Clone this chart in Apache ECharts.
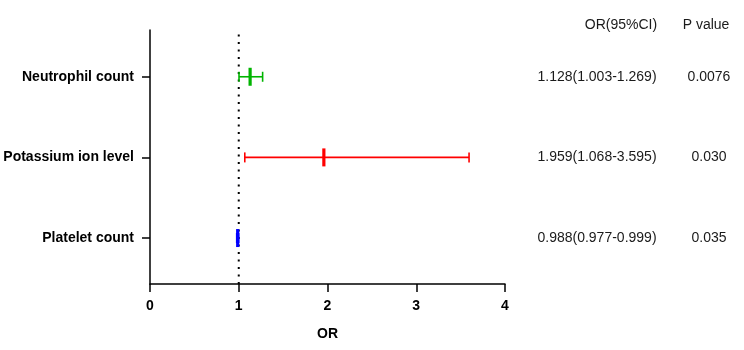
<!DOCTYPE html>
<html>
<head>
<meta charset="utf-8">
<script src="https://cdn.jsdelivr.net/npm/echarts@6/dist/echarts.min.js"></script>
<style>
html,body{margin:0;padding:0;background:#fff;}
#main{width:744px;height:350px;}
</style>
</head>
<body>
<div id="main"></div>
<script>
// ---- data ----
var categories = ['Platelet count', 'Potassium ion level', 'Neutrophil count'];
var orValues = [0.988, 1.959, 1.128];
var ciLow = [0.977, 1.068, 1.003];
var ciHigh = [0.999, 3.595, 1.269];
var pValues = ['0.035', '0.030', '0.0076'];
var rowColors = ['#0000ff', '#ff0000', '#00b400'];
var xTicks = [0, 1, 2, 3, 4];
var refValue = 1;
var headers = ['OR(95%CI)', 'P value'];

var FONT = "'Liberation Sans', Arial, Helvetica, sans-serif";
var yMin = 0.43, yMax = 3.58;

var seriesData = categories.map(function (c, i) {
  return [orValues[i], ciLow[i], ciHigh[i], i + 1];
});

function renderItem(params, api) {
  var idx = params.dataIndex;
  var row = api.value(3);
  var pc = api.coord([api.value(0), row]);
  var pl = api.coord([api.value(1), row]);
  var ph = api.coord([api.value(2), row]);
  var color = rowColors[idx];
  var y = pc[1];
  var capH = 5;
  var midH = 9;
  var ciText = orValues[idx].toFixed(3) + '(' + ciLow[idx].toFixed(3) + '-' + ciHigh[idx].toFixed(3) + ')';
  return {
    type: 'group',
    children: [
      { type: 'line', shape: { x1: pl[0], y1: y, x2: ph[0], y2: y }, style: { stroke: color, lineWidth: 1.6 } },
      { type: 'line', shape: { x1: pl[0], y1: y - capH, x2: pl[0], y2: y + capH }, style: { stroke: color, lineWidth: 1.6 } },
      { type: 'line', shape: { x1: ph[0], y1: y - capH, x2: ph[0], y2: y + capH }, style: { stroke: color, lineWidth: 1.6 } },
      { type: 'line', shape: { x1: pc[0], y1: y - midH, x2: pc[0], y2: y + midH }, style: { stroke: color, lineWidth: 3.2 } },
      { type: 'text', x: 597, y: y, style: { text: ciText, fill: '#1a1a1a', font: '14px ' + FONT, align: 'center', verticalAlign: 'middle' } },
      { type: 'text', x: 709, y: y, style: { text: pValues[idx], fill: '#1a1a1a', font: '14px ' + FONT, align: 'center', verticalAlign: 'middle' } }
    ]
  };
}

var chart = echarts.init(document.getElementById('main'), null, { renderer: 'canvas' });
chart.setOption({
  backgroundColor: '#ffffff',
  animation: false,
  grid: { left: 150, right: 239, top: 30, bottom: 66, containLabel: false },
  xAxis: {
    type: 'value',
    min: xTicks[0],
    max: xTicks[xTicks.length - 1],
    interval: 1,
    name: 'OR',
    nameLocation: 'middle',
    nameGap: 43,
    nameTextStyle: { fontFamily: FONT, fontWeight: 'bold', fontSize: 14, color: '#000' },
    axisLine: { show: true, lineStyle: { color: '#000', width: 1.5 } },
    axisTick: { show: true, length: 8, lineStyle: { color: '#000', width: 1.5 } },
    axisLabel: { fontFamily: FONT, fontWeight: 'bold', fontSize: 14, color: '#000', margin: 15 },
    splitLine: { show: false }
  },
  yAxis: {
    type: 'value',
    min: yMin,
    max: yMax,
    axisLine: { show: true, lineStyle: { color: '#000', width: 1.5 } },
    axisTick: { show: true, length: 8, customValues: [1, 2, 3], lineStyle: { color: '#000', width: 1.5 } },
    axisLabel: {
      customValues: [1, 2, 3],
      fontFamily: FONT, fontWeight: 'bold', fontSize: 14, color: '#000', margin: 16,
      formatter: function (v) { return categories[Math.round(v) - 1] || ''; }
    },
    splitLine: { show: false }
  },
  graphic: [
    { type: 'text', x: 621, y: 25, style: { text: headers[0], fill: '#1a1a1a', font: '14px ' + FONT, align: 'center', verticalAlign: 'middle' } },
    { type: 'text', x: 706, y: 25, style: { text: headers[1], fill: '#1a1a1a', font: '14px ' + FONT, align: 'center', verticalAlign: 'middle' } }
  ],
  series: [
    {
      type: 'line',
      data: [[refValue, yMin], [refValue, yMax]],
      symbol: 'none',
      lineStyle: { color: '#000', width: 2, type: [2, 5.5], cap: 'butt' },
      z: 1,
      silent: true
    },
    {
      type: 'custom',
      renderItem: renderItem,
      data: seriesData,
      encode: { x: [0, 1, 2], y: 3 },
      clip: false,
      z: 2
    }
  ]
});
</script>
</body>
</html>
